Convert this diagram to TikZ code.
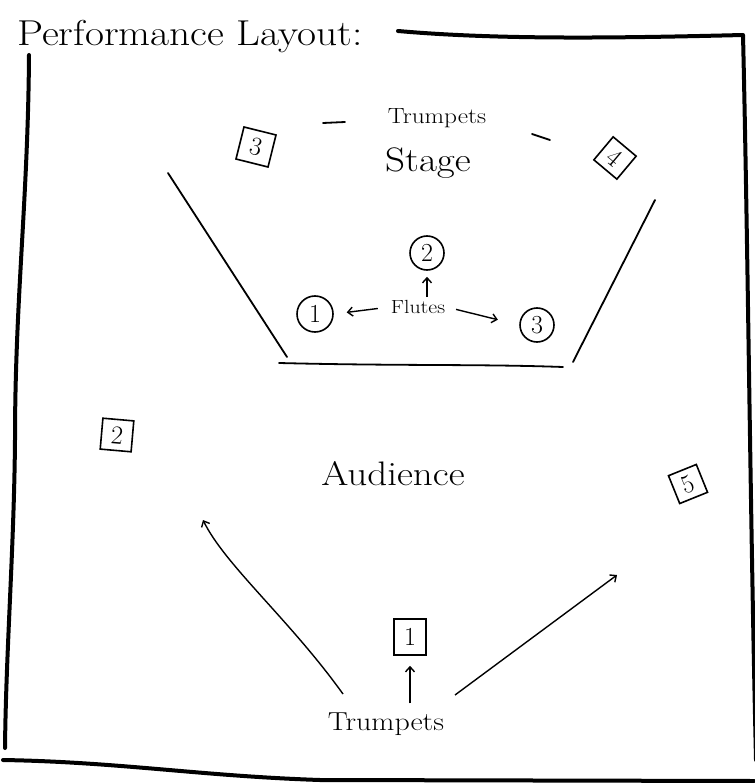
\documentclass[tikz,border=0pt]{standalone}
\usetikzlibrary{arrows.meta,calc}
\newcommand{\wide}[1]{\scalebox{1.15}[1]{#1}}
\begin{document}
\begin{tikzpicture}[x=1pt,y=-1pt,
  frameline/.style={line width=4pt,line cap=round,line join=round},
  stageline/.style={line width=1.8pt,line cap=round},
  arr/.style={line width=1.4pt,-{Straight Barb[length=5pt,width=9pt]}},
  numcircle/.style={draw,circle,line width=1.6pt,minimum size=34pt,inner sep=0pt,font=\fontsize{26}{26}\selectfont},
  numbox/.style={draw,rectangle,line width=1.6pt,minimum size=33pt,inner sep=0pt,font=\fontsize{26}{26}\selectfont},
  label/.style={inner sep=1pt}]
\useasboundingbox (0,0) rectangle (754,783);
% title
\node[label,anchor=west,font=\fontsize{36}{40}\selectfont] (title) at (16,37) {\wide{Performance Layout:}};
% frame
\draw[frameline] (398,31) .. controls (500,40) and (620,38) .. (743,35)
  .. controls (748,250) and (750,500) .. (756,760);
\draw[frameline] (29,55) .. controls (28,200) and (15,300) .. (15,440)
  .. controls (14,550) and (6,650) .. (5,748);
\draw[frameline] (3,760) .. controls (120,762) and (200,776) .. (320,780)
  -- (754,781);
% stage outline
\draw[stageline] (168,173) -- (287,357);
\draw[stageline] (279,363) .. controls (400,366) and (480,364) .. (563,367);
\draw[stageline] (573,362) -- (655,200);
% stage labels
\node[label,font=\fontsize{22}{22}\selectfont] (tt) at (437,118) {\wide{Trumpets}};
\node[label,font=\fontsize{34}{34}\selectfont] (stage) at (428,163) {\wide{Stage}};
\draw[stageline] (323,123) -- (345,122);
\draw[stageline] (532,134) -- (550,140);
% top trumpet boxes
\node[numbox,rotate=-14] (s3) at (256,147) {3};
\node[numbox,rotate=-40,minimum size=30pt] (s4) at (615,158) {4};
% flutes
\node[numcircle] (c2) at (427,253) {2};
\node[numcircle,minimum size=36pt] (c1) at (315,314) {1};
\node[numcircle] (c3) at (537,325) {3};
\node[label,font=\fontsize{19}{19}\selectfont] (fl) at (418,307) {\wide{Flutes}};
\draw[arr,shorten <=2pt,shorten >=6pt] (c2.south |- fl.north) -- (c2.south);
\draw[arr,shorten <=12pt,shorten >=13pt] (fl.west) -- (c1.east);
\draw[arr,shorten <=10pt,shorten >=22pt] (fl.east) -- (c3.west);
% audience
\node[label,font=\fontsize{34}{34}\selectfont] (aud) at (393,474) {\wide{Audience}};
\node[numbox,rotate=-5,minimum size=31pt] (s2) at (117,435) {2};
\node[numbox,rotate=22,minimum size=30pt] (s5) at (688,484) {5};
\node[numbox,minimum width=32pt,minimum height=36pt] (s1) at (410,637) {1};
% bottom trumpets
\node[label,font=\fontsize{26}{26}\selectfont] (tb) at (386,724) {\wide{Trumpets}};
\coordinate (sL) at (343,694);
\coordinate (eL) at (203,520);
\coordinate (sR) at (455,695);
\coordinate (eR) at (617,575);
\draw[arr,shorten <=8pt,shorten >=10pt] (s1.south |- tb.north) -- (s1.south);
\draw[arr] (sL) .. controls (290,620) and (225,565) .. (eL);
\draw[arr] (sR) -- (eR);
\end{tikzpicture}
\end{document}
